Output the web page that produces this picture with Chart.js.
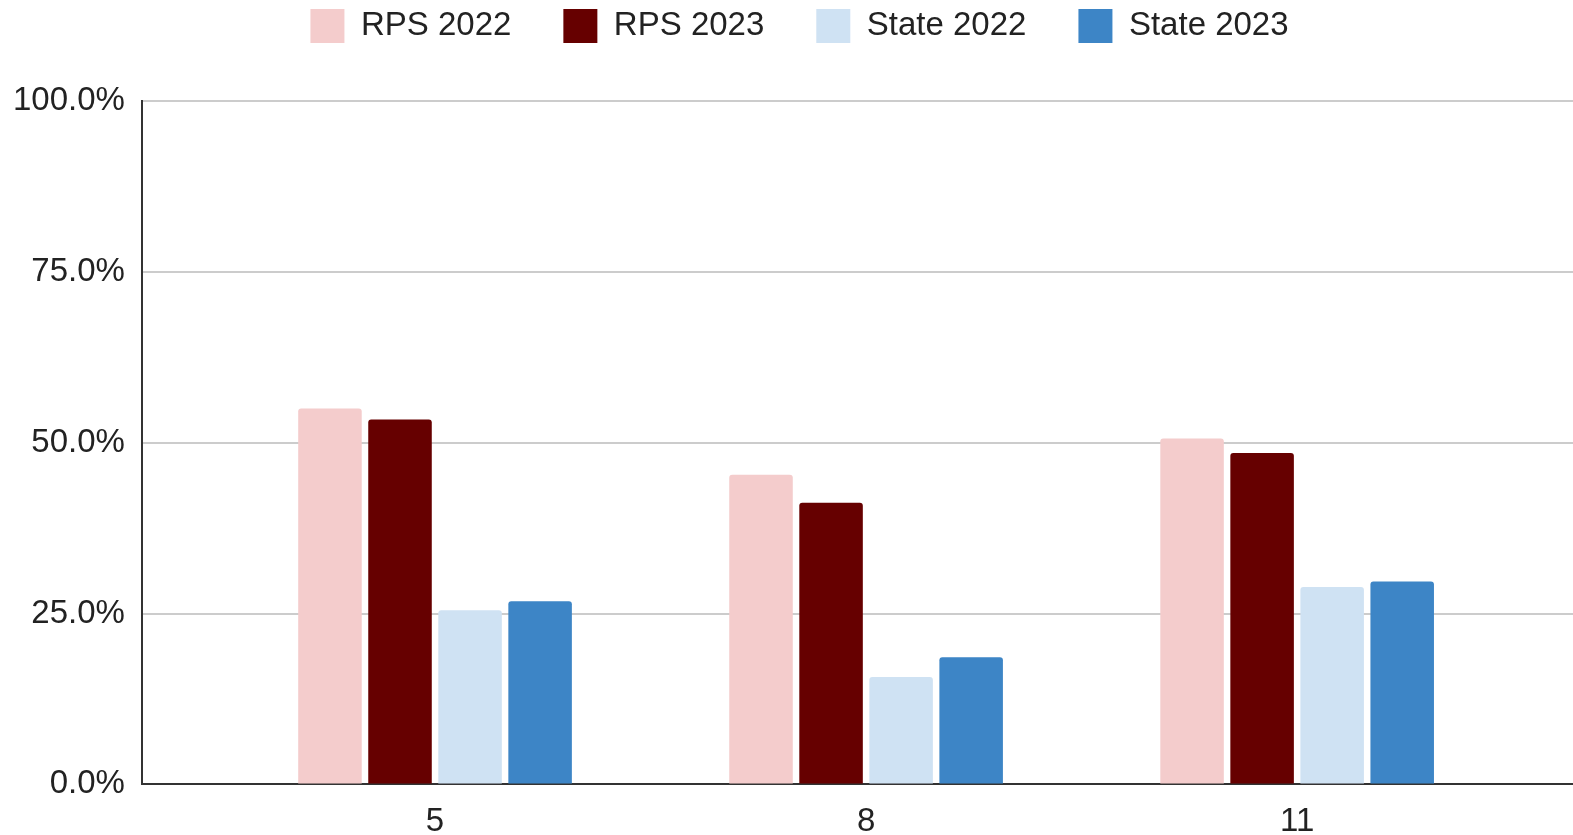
<!DOCTYPE html>
<html>
<head>
<meta charset="utf-8">
<script src="https://cdn.jsdelivr.net/npm/chart.js@4"></script>
<style>
  body { margin: 0; background: #fff; }
  #wrap { width: 1573px; height: 835px; }
</style>
</head>
<body>
<div id="wrap"><canvas id="myChart"></canvas></div>
<script>
const grades = ["5", "8", "11"];
const rps2022 = [55.0, 45.3, 50.6];
const rps2023 = [53.4, 41.2, 48.5];
const state2022 = [25.5, 15.7, 28.9];
const state2023 = [26.8, 18.6, 29.7];
const yTicks = [0, 25, 50, 75, 100];

Chart.defaults.font.family = "'Liberation Sans', Arial, sans-serif";
Chart.defaults.font.size = 33;
Chart.defaults.color = "#222";

// bars sit on a numeric x axis so the group spacing can match the original
function points(values) {
  return values.map((v, i) => ({ x: i, y: v }));
}

// move legend up and a bit right; its padding is kept large for the horizontal gaps
const legendShift = {
  id: "legendShift",
  afterLayout(chart) {
    chart.legend.top -= 48;
    chart.legend.bottom -= 48;
    chart.legend.left += 15;
    chart.legend.right += 15;
  },
};

const ctx = document.getElementById("myChart");
new Chart(ctx, {
  type: "bar",
  data: {
    datasets: [
      { label: "RPS 2022", data: points(rps2022), backgroundColor: "#f4cccc" },
      { label: "RPS 2023", data: points(rps2023), backgroundColor: "#660000" },
      { label: "State 2022", data: points(state2022), backgroundColor: "#cfe2f3" },
      { label: "State 2023", data: points(state2023), backgroundColor: "#3d85c6" },
    ],
  },
  plugins: [legendShift],
  options: {
    responsive: true,
    maintainAspectRatio: false,
    animation: false,
    categoryPercentage: 0.65,
    barPercentage: 0.907,
    borderRadius: 3,
    layout: { padding: { left: -4, right: 0, top: 5, bottom: -25 } },
    plugins: {
      tooltip: { enabled: false },
      legend: {
        position: "top",
        labels: {
          boxWidth: 34,
          boxHeight: 34,
          padding: 52,
          color: "#222",
        },
      },
    },
    scales: {
      x: {
        type: "linear",
        offset: false,
        min: -0.68,
        max: 2.64,
        afterBuildTicks: (scale) => {
          scale.ticks = grades.map((g, i) => ({ value: i }));
        },
        ticks: {
          padding: 18,
          callback: (v) => grades[v],
        },
        grid: { display: false, drawTicks: false, offset: false },
        border: { color: "#333", width: 2 },
      },
      y: {
        min: 0,
        max: 100,
        afterBuildTicks: (scale) => {
          scale.ticks = yTicks.map((t) => ({ value: t }));
        },
        ticks: {
          padding: 17,
          callback: (v) => v.toFixed(1) + "%",
        },
        grid: { color: "#cccccc", lineWidth: 2, drawTicks: false },
        border: { color: "#333", width: 2 },
      },
    },
  },
});
</script>
</body>
</html>
